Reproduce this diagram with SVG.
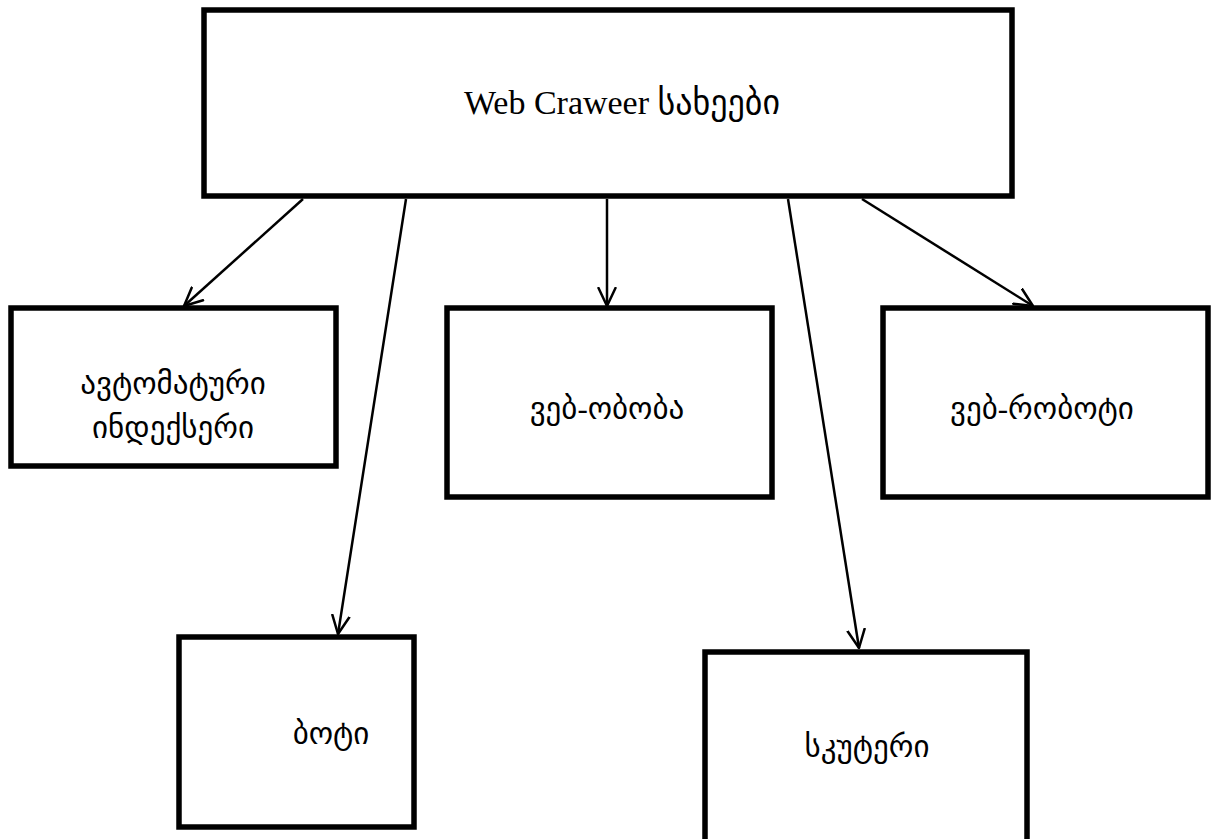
<svg xmlns="http://www.w3.org/2000/svg" width="1215" height="839" viewBox="0 0 1215 839">
  <style>
    .box { fill: #ffffff; stroke: #000000; stroke-width: 5.5; }
    .label { font-family: "Liberation Serif", "DejaVu Sans", serif; font-size: 31px; fill: #000000; text-anchor: middle; }
    .title { font-size: 34px; }
    .edge { stroke: #000000; stroke-width: 2.5; fill: none; marker-end: url(#arrow); }
  </style>
  <defs>
    <marker id="arrow" viewBox="0 0 20 20" refX="19" refY="10" markerWidth="20" markerHeight="20" markerUnits="userSpaceOnUse" orient="auto">
      <path d="M1,1.5 L19,10 L1,18.5" fill="none" stroke="#000000" stroke-width="2.5" stroke-linecap="round" stroke-linejoin="round"/>
    </marker>
  </defs>

  <rect width="1215" height="839" fill="#ffffff"/>

  <g id="connectors">
    <line class="edge" x1="303" y1="199" x2="184" y2="306"/>
    <line class="edge" x1="406" y1="199" x2="338" y2="634"/>
    <line class="edge" x1="607" y1="199" x2="607" y2="306"/>
    <line class="edge" x1="788" y1="199" x2="859" y2="648"/>
    <line class="edge" x1="862" y1="199" x2="1033" y2="306"/>
  </g>

  <g id="node-root">
    <rect class="box" x="204" y="10" width="808" height="186"/>
    <text class="label title" x="622" y="114">Web Craweer სახეები</text>
  </g>

  <g id="node-indexer">
    <rect class="box" x="11" y="308" width="325" height="158"/>
    <text class="label" x="173" y="394">ავტომატური</text>
    <text class="label" x="173" y="438">ინდექსერი</text>
  </g>

  <g id="node-spider">
    <rect class="box" x="447" y="308" width="325" height="189"/>
    <text class="label" x="607" y="419">ვებ-ობობა</text>
  </g>

  <g id="node-robot">
    <rect class="box" x="883" y="308" width="325" height="189"/>
    <text class="label" x="1042" y="419">ვებ-რობოტი</text>
  </g>

  <g id="node-bot">
    <rect class="box" x="179" y="637" width="235" height="190"/>
    <text class="label" x="331" y="744">ბოტი</text>
  </g>

  <g id="node-scooter">
    <rect class="box" x="705" y="652" width="322" height="200"/>
    <text class="label" x="867" y="757">სკუტერი</text>
  </g>
</svg>
